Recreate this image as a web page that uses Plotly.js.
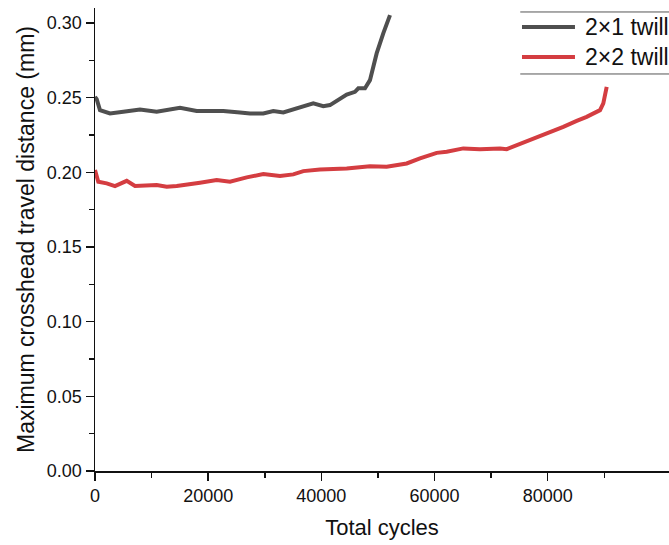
<!DOCTYPE html>
<html>
<head>
<meta charset="utf-8">
<script src="https://cdn.plot.ly/plotly-3.0.1.min.js"></script>
<style>
  html, body { margin: 0; padding: 0; background: #fff; overflow: hidden; }
  #chart { width: 669px; height: 545px; }
</style>
</head>
<body>
<div id="chart"></div>
<script>
// ---- Data ----
const seriesNames = ["2×1 twill", "2×2 twill"];
const seriesColors = ["#4f4f4f", "#d43d41"];

const cycles2x1 = [0, 300, 880, 2650, 5000, 7950, 10900, 15020, 17970, 22670, 25620, 27390, 29740, 31510, 33270, 35640, 38570, 40340, 41520, 44480, 45940, 46530, 47710, 48590, 49480, 49770, 50940, 52130];
const travel2x1 = [0.2505, 0.2490, 0.2416, 0.2394, 0.2405, 0.2421, 0.2405, 0.2432, 0.2411, 0.2410, 0.2401, 0.2394, 0.2394, 0.2410, 0.2401, 0.2428, 0.2461, 0.2443, 0.2450, 0.2521, 0.2539, 0.2562, 0.2562, 0.2617, 0.2751, 0.2796, 0.2930, 0.3052];

const cycles2x2 = [0, 580, 2070, 3530, 5600, 7070, 10900, 12670, 14440, 16200, 18550, 21500, 23850, 26810, 29740, 32690, 35040, 36810, 39760, 44480, 48590, 51540, 55080, 57430, 60380, 62150, 65080, 68030, 71560, 72750, 75100, 78630, 82750, 85120, 86880, 89240, 89820, 90420];
const travel2x2 = [0.2015, 0.1937, 0.1926, 0.1908, 0.1943, 0.1908, 0.1915, 0.1904, 0.1908, 0.1915, 0.1930, 0.1948, 0.1937, 0.1966, 0.1988, 0.1975, 0.1986, 0.2008, 0.2019, 0.2026, 0.2041, 0.2037, 0.2059, 0.2093, 0.2130, 0.2137, 0.2160, 0.2155, 0.2160, 0.2155, 0.2189, 0.2242, 0.2304, 0.2344, 0.2371, 0.2416, 0.2461, 0.2572];

const xTickVals = [0, 20000, 40000, 60000, 80000];
const xMinorTickVals = [10000, 30000, 50000, 70000, 90000];

const xTitle = "Total cycles";
const yTitle = "Maximum crosshead travel distance (mm)";

// ---- Chart ----
const FONT = "Liberation Sans, Arial, Helvetica, sans-serif";

const traces = [
  { x: cycles2x1, y: travel2x1, name: seriesNames[0], type: "scatter", mode: "lines",
    line: { color: seriesColors[0], width: 4 } },
  { x: cycles2x2, y: travel2x2, name: seriesNames[1], type: "scatter", mode: "lines",
    line: { color: seriesColors[1], width: 4 } }
];

// custom legend (top & bottom rule, long line samples) running to the right edge like the reference
const legX0 = 0.7439, legX1 = 0.8362, legTextX = 0.8502;
const legY = [0.959, 0.894];
const shapes = [
  { type: "line", xref: "paper", yref: "paper", x0: legX0 - 0.003, x1: 1.0, y0: 0.9914, y1: 0.9914,
    line: { color: "#555", width: 1 } },
  { type: "line", xref: "paper", yref: "paper", x0: legX0 - 0.003, x1: 1.0, y0: 0.8575, y1: 0.8575,
    line: { color: "#555", width: 1 } }
];
const annotations = [];
seriesNames.forEach((nm, i) => {
  shapes.push({ type: "line", xref: "paper", yref: "paper", x0: legX0, x1: legX1, y0: legY[i], y1: legY[i],
    line: { color: seriesColors[i], width: 4 } });
  annotations.push({ xref: "paper", yref: "paper", x: legTextX, y: legY[i], xanchor: "left", yanchor: "middle",
    text: nm, showarrow: false, font: { family: FONT, size: 23, color: "#111" } });
});

const layout = {
  width: 669, height: 545,
  margin: { l: 95, r: 0, t: 8, b: 74, autoexpand: false },
  paper_bgcolor: "#fff", plot_bgcolor: "#fff",
  font: { family: FONT, color: "#111" },
  showlegend: false,
  xaxis: {
    range: [0, 101430],
    tickmode: "array", tickvals: xTickVals, tickformat: "d",
    ticks: "outside", ticklen: 8, tickwidth: 1.5, tickcolor: "#111",
    minor: { tickmode: "array", tickvals: xMinorTickVals, ticks: "outside", ticklen: 5, tickwidth: 1.5, tickcolor: "#111" },
    showline: true, linecolor: "#111", linewidth: 1.5,
    showgrid: false, zeroline: false,
    tickfont: { family: FONT, size: 18, color: "#111" },
    title: { text: xTitle, font: { family: FONT, size: 22, color: "#111" }, standoff: 14 },
    automargin: false
  },
  yaxis: {
    range: [0, 0.31],
    dtick: 0.05, tick0: 0, tickformat: ".2f",
    ticks: "outside", ticklen: 8, tickwidth: 1.5, tickcolor: "#111",
    minor: { dtick: 0.025, ticks: "outside", ticklen: 5, tickwidth: 1.5, tickcolor: "#111" },
    showline: true, linecolor: "#111", linewidth: 1.5,
    showgrid: false, zeroline: false,
    tickfont: { family: FONT, size: 18, color: "#111" },
    title: { text: yTitle, font: { family: FONT, size: 23, color: "#111" }, standoff: 6 },
    automargin: false
  },
  shapes: shapes,
  annotations: annotations
};

Plotly.newPlot("chart", traces, layout, { displayModeBar: false, staticPlot: true });
</script>
</body>
</html>
